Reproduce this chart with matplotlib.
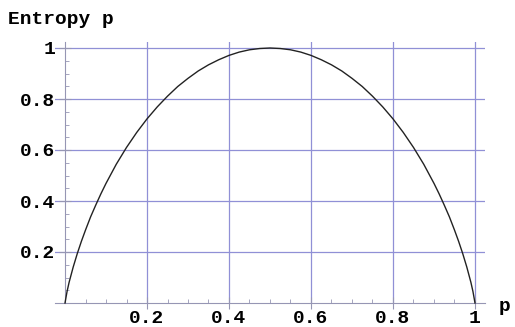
import matplotlib
matplotlib.use("Agg")
import matplotlib.pyplot as plt
from matplotlib.ticker import MultipleLocator

# values
p = [0.0, 0.005, 0.01, 0.02, 0.03, 0.04, 0.05, 0.0625, 0.075, 0.0875, 0.1,
     0.125, 0.15, 0.175, 0.2, 0.225, 0.25, 0.275, 0.3, 0.325, 0.35, 0.375,
     0.4, 0.425, 0.45, 0.475, 0.5, 0.525, 0.55, 0.575, 0.6, 0.625, 0.65,
     0.675, 0.7, 0.725, 0.75, 0.775, 0.8, 0.825, 0.85, 0.875, 0.9, 0.9125,
     0.925, 0.9375, 0.95, 0.96, 0.97, 0.98, 0.99, 0.995, 1.0]
entropy = [0.0, 0.045, 0.081, 0.141, 0.194, 0.242, 0.286, 0.338, 0.384,
           0.428, 0.469, 0.544, 0.610, 0.669, 0.722, 0.769, 0.811, 0.849,
           0.881, 0.910, 0.934, 0.954, 0.971, 0.984, 0.993, 0.998, 1.0,
           0.998, 0.993, 0.984, 0.971, 0.954, 0.934, 0.910, 0.881, 0.849,
           0.811, 0.769, 0.722, 0.669, 0.610, 0.544, 0.469, 0.428, 0.384,
           0.338, 0.286, 0.242, 0.194, 0.141, 0.081, 0.045, 0.0]
xticks = [0.2, 0.4, 0.6, 0.8, 1]
yticks = [0.2, 0.4, 0.6, 0.8, 1]
xticklabels = ["0.2", "0.4", "0.6", "0.8", "1"]
yticklabels = ["0.2", "0.4", "0.6", "0.8", "1"]

W, H = 515, 327
fig = plt.figure(figsize=(W / 100, H / 100), dpi=100)
# axes box in pixels: x 55..485, y 42..303
ax = fig.add_axes([55 / W, (H - 303) / H, 430 / W, 261 / H])
ax.set_xlim(-10 / 410, 420 / 410)
ax.set_ylim(0, 261 / 255)

gridc = "#9090d6"
axc = "#9696b4"
font = dict(family="Liberation Mono", weight="bold", size=14)

ax.plot(p, entropy, color="#222222", lw=1.0, clip_on=False, zorder=3)

for s in ["top", "right"]:
    ax.spines[s].set_visible(False)
ax.spines["left"].set_position(("data", 0))
ax.spines["bottom"].set_position(("data", 0))
ax.spines["left"].set_color(axc)
ax.spines["bottom"].set_color(axc)

ax.set_xticks(xticks)
ax.set_xticklabels(xticklabels, fontdict=font)
ax.set_yticks(yticks)
ax.set_yticklabels(yticklabels, fontdict=font)
ax.xaxis.set_minor_locator(MultipleLocator(0.05))
ax.yaxis.set_minor_locator(MultipleLocator(0.05))
ax.tick_params(axis="x", which="major", direction="inout", length=8,
               color=axc, pad=1)
ax.tick_params(axis="y", which="major", direction="inout", length=8,
               color=axc, pad=3)
ax.tick_params(which="minor", direction="in", length=3, color=axc)
ax.grid(True, which="major", color=gridc, lw=0.9)
ax.set_axisbelow(True)

fig.text(8 / W, (H - 24) / H, "Entropy p", fontdict=font, va="baseline")
fig.text(499 / W, (H - 311) / H, "p", fontdict=font, va="baseline")

fig.savefig("out.png", dpi=100)
